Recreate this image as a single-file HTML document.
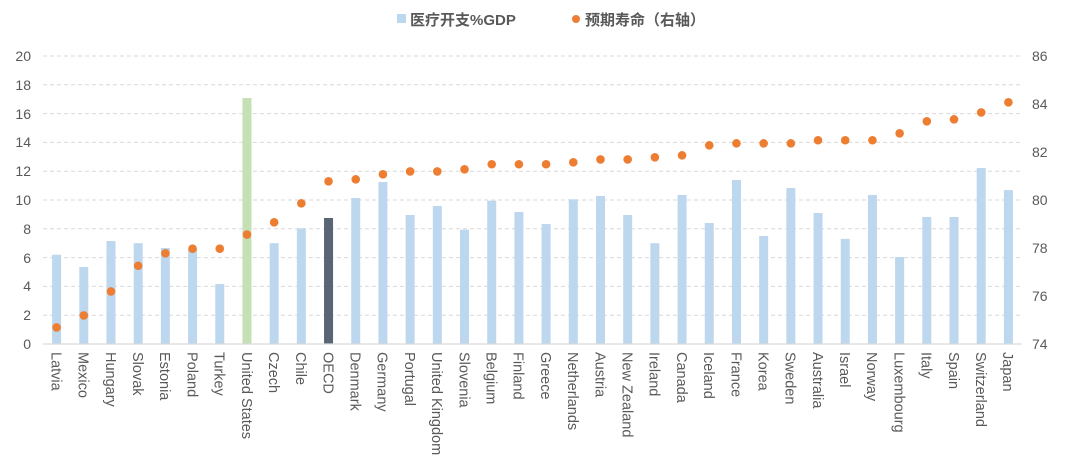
<!DOCTYPE html>
<html><head><meta charset="utf-8"><style>
body{margin:0;background:#fff;}
svg{display:block;font-family:"Liberation Sans","Noto Sans CJK SC",sans-serif;}
</style></head><body>
<svg id="c" width="1069" height="469" xmlns="http://www.w3.org/2000/svg">
<rect width="1069" height="469" fill="#fff"/>
<g id="grid"></g><g id="bars"></g><g id="dots"></g><g id="labels"></g>
<line x1="43" y1="344" x2="1022" y2="344" stroke="#d9d9d9" stroke-width="1.3"/>
<g font-size="14" fill="#595959" text-anchor="end">
<text x="31" y="61">20</text><text x="31" y="90">18</text><text x="31" y="119">16</text><text x="31" y="147">14</text><text x="31" y="176">12</text><text x="31" y="205">10</text><text x="31" y="234">8</text><text x="31" y="263">6</text><text x="31" y="291">4</text><text x="31" y="320">2</text><text x="31" y="349">0</text>
</g>
<g font-size="14" fill="#595959" text-anchor="start">
<text x="1032" y="61">86</text><text x="1032" y="109">84</text><text x="1032" y="157">82</text><text x="1032" y="205">80</text><text x="1032" y="253">78</text><text x="1032" y="301">76</text><text x="1032" y="349">74</text>
</g>
<rect x="397" y="14" width="9" height="9" fill="#bdd7ee"/>
<text x="410" y="25" font-size="15" font-weight="bold" fill="#595959">医疗开支%GDP</text>
<circle cx="576" cy="19" r="4" fill="#ed7d31"/>
<text x="585" y="25" font-size="15" font-weight="bold" fill="#595959">预期寿命（右轴）</text>
</svg>
<script>
const d=[["Latvia",6.2,74.69],["Mexico",5.35,75.19],["Hungary",7.15,76.19],["Slovak",7.0,77.26],["Estonia",6.67,77.78],["Poland",6.6,77.97],["Turkey",4.17,77.97],["United States",17.08,78.56],["Czech",7.0,79.07],["Chile",8.03,79.86],["OECD",8.75,80.78],["Denmark",10.14,80.86],["Germany",11.25,81.07],["Portugal",8.96,81.19],["United Kingdom",9.58,81.19],["Slovenia",7.94,81.28],["Belgium",9.95,81.49],["Finland",9.17,81.49],["Greece",8.33,81.49],["Netherlands",10.05,81.57],["Austria",10.28,81.69],["New Zealand",8.96,81.69],["Ireland",7.0,81.78],["Canada",10.35,81.86],["Iceland",8.4,82.28],["France",11.39,82.36],["Korea",7.5,82.36],["Sweden",10.83,82.36],["Australia",9.1,82.49],["Israel",7.3,82.49],["Norway",10.35,82.49],["Luxembourg",6.04,82.78],["Italy",8.82,83.28],["Spain",8.82,83.36],["Switzerland",12.22,83.65],["Japan",10.69,84.07]];
const ns="http://www.w3.org/2000/svg";
function el(t,a,p){const e=document.createElementNS(ns,t);for(const k in a)e.setAttribute(k,a[k]);document.getElementById(p).appendChild(e);return e;}
for(let k=0;k<10;k++){const y=56+k*28.8;el("line",{x1:43,x2:1022,y1:y,y2:y,stroke:"#d9d9d9","stroke-dasharray":"4,3","stroke-width":1},"grid");}
const step=979/36;
d.forEach((r,i)=>{
 const cx=43+step*(i+0.5);
 const h=r[1]*14.4;
 const col=r[0]=="United States"?"#c5e0b4":(r[0]=="OECD"?"#596474":"#bdd7ee");
 el("rect",{x:cx-4.5,y:344-h,width:9,height:h,fill:col},"bars");
 el("circle",{cx:cx,cy:344-(r[2]-74)*24,r:4.3,fill:"#ed7d31"},"dots");
 const t=el("text",{x:0,y:0,transform:`translate(${cx-5.2},352) rotate(90)`,"font-size":14.5,fill:"#595959"},"labels");
 t.textContent=r[0];
});
</script>
</body></html>
